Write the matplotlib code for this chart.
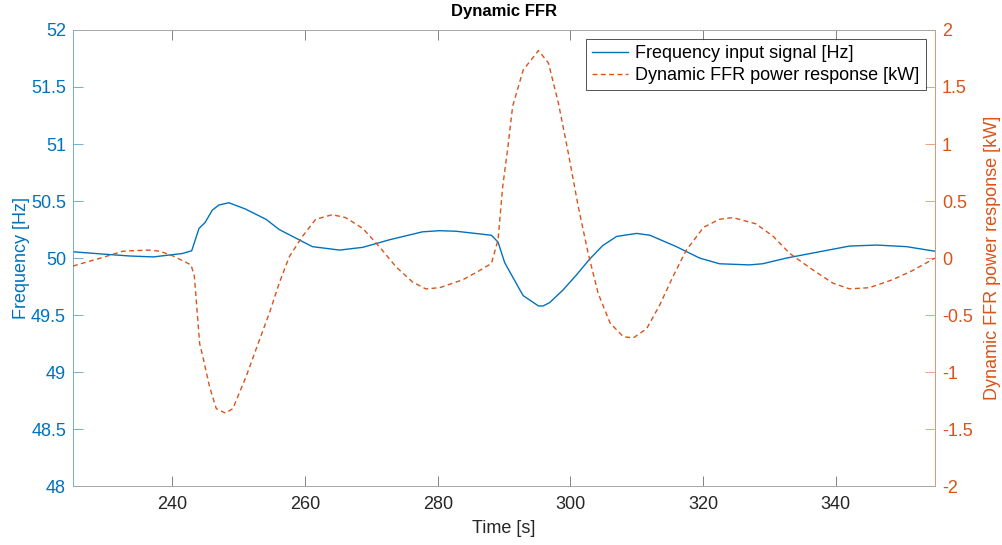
import matplotlib
matplotlib.use("Agg")
import matplotlib.pyplot as plt

plt.rcParams['font.family'] = ['Liberation Sans', 'DejaVu Sans']
plt.rcParams['axes.unicode_minus'] = False

# Frequency input signal [Hz]
t_freq = [225, 229.5, 233.6, 237.1, 241.5, 242.9, 244.0, 244.9, 246.0, 247.0, 248.5,
          251.0, 254.1, 256.1, 259.1, 261.1, 265.2, 268.7, 272.7, 277.7, 280.3, 282.8,
          288.1, 289.1, 290.1, 292.4, 292.9, 295.2, 295.9, 296.9, 298.9, 300.9, 302.9,
          304.9, 307.0, 310.0, 312.0, 316.0, 319.5, 322.5, 327.0, 329.0, 332.6, 337.1,
          342.1, 346.2, 350.7, 355]
freq = [50.055, 50.035, 50.018, 50.01, 50.04, 50.064, 50.26, 50.31, 50.42, 50.465, 50.485,
        50.43, 50.34, 50.25, 50.16, 50.10, 50.07, 50.094, 50.16, 50.23, 50.24, 50.235,
        50.20, 50.14, 49.96, 49.72, 49.67, 49.58, 49.58, 49.61, 49.72, 49.85, 49.99,
        50.11, 50.19, 50.216, 50.20, 50.10, 50.00, 49.95, 49.94, 49.95, 50.00, 50.05,
        50.105, 50.114, 50.10, 50.06]

# Dynamic FFR power response [kW]
t_pow = [225, 229.5, 232.5, 236.3, 238.1, 240.1, 242.8, 243.3, 244.1, 244.6, 245.6,
         246.6, 248.0, 249.1, 251.1, 253.1, 254.6, 256.1, 257.6, 259.6, 261.6, 264.1,
         266.1, 268.7, 271.2, 273.7, 276.2, 278.2, 280.3, 283.8, 286.3, 288.1, 289.1,
         289.8, 290.6, 291.3, 292.9, 295.2, 296.7, 298.2, 299.7, 301.2, 302.7, 304.2,
         306.0, 308.0, 309.5, 311.5, 313.5, 315.5, 317.5, 320.1, 322.5, 324.5, 328.0,
         330.6, 333.1, 336.6, 339.6, 342.1, 345.1, 348.6, 351.6, 355]
power = [-0.07, 0.006, 0.06, 0.07, 0.06, 0.018, -0.06, -0.16, -0.75, -0.87, -1.13,
         -1.32, -1.36, -1.32, -1.04, -0.72, -0.485, -0.22, 0.01, 0.19, 0.34, 0.38,
         0.355, 0.26, 0.10, -0.076, -0.21, -0.27, -0.26, -0.19, -0.11, -0.047, 0.16,
         0.625, 0.98, 1.33, 1.65, 1.82, 1.71, 1.36, 0.92, 0.45, 0.04, -0.31,
         -0.57, -0.69, -0.70, -0.62, -0.41, -0.16, 0.07, 0.27, 0.34, 0.355, 0.30,
         0.19, 0.04, -0.105, -0.22, -0.27, -0.26, -0.19, -0.11, 0.0]

x_ticks = [240, 260, 280, 300, 320, 340]
left_ticks = [48, 48.5, 49, 49.5, 50, 50.5, 51, 51.5, 52]
right_ticks = [-2, -1.5, -1, -0.5, 0, 0.5, 1, 1.5, 2]

BLUE = '#0072BD'
ORANGE = '#D95319'
GRAY = '#262626'
FS = 13

fig = plt.figure(figsize=(10.03, 5.45), dpi=100)
ax = fig.add_axes([0.0728, 0.108, 0.8594, 0.837])
ax2 = ax.twinx()

l1, = ax.plot(t_freq, freq, color=BLUE, lw=1.0, label='Frequency input signal [Hz]')
l2, = ax2.plot(t_pow, power, color=ORANGE, lw=1.0, ls=(0, (3.5, 2.5)),
               label='Dynamic FFR power response [kW]')

ax.set_xlim(225, 355)
ax.set_ylim(48, 52)
ax2.set_ylim(-2, 2)
ax.set_xticks(x_ticks)
ax.set_xticklabels([str(v) for v in x_ticks])
ax.set_yticks(left_ticks)
ax.set_yticklabels(['%g' % v for v in left_ticks])
ax2.set_yticks(right_ticks)
ax2.set_yticklabels(['%g' % v for v in right_ticks])

for a in (ax, ax2):
    for s in a.spines.values():
        s.set_linewidth(0.6)
        s.set_color('#a6a6a6')
ax.spines['left'].set_color('#5aa2d6')
ax2.spines['right'].set_color('#e8946e')
ax2.spines['left'].set_visible(False)

ax.tick_params(axis='x', direction='in', length=7, top=True, colors='#6e6e6e',
               labelcolor=GRAY, labelsize=FS, width=0.6, pad=7)
ax.tick_params(axis='y', direction='in', length=7, colors='#5aa2d6', labelcolor=BLUE,
               labelsize=FS, width=0.6, pad=5)
ax2.tick_params(axis='y', direction='in', length=7, colors='#e8946e', labelcolor=ORANGE,
                labelsize=FS, width=0.6, pad=5)

ax.set_xlabel('Time [s]', fontsize=FS, color=GRAY, labelpad=5)
ax.set_ylabel('Frequency [Hz]', fontsize=FS, color=BLUE, labelpad=1)
ax2.set_ylabel('Dynamic FFR power response [kW]', fontsize=FS, color=ORANGE, labelpad=8)
ax.set_title('Dynamic FFR', fontsize=12, fontweight='bold', color='black', pad=10)

leg = ax2.legend([l1, l2], [l1.get_label(), l2.get_label()], loc='upper right',
                 fontsize=FS, frameon=True, fancybox=False, edgecolor='#262626',
                 borderaxespad=0.5, handlelength=2.0, handletextpad=0.4,
                 borderpad=0.35, labelspacing=0.25)
leg.get_frame().set_linewidth(0.7)

fig.savefig('out.png', dpi=100)
